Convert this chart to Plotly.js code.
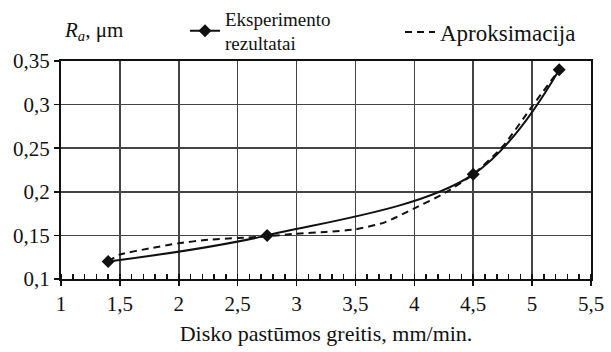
<!DOCTYPE html>
<html>
<head>
<meta charset="utf-8">
<script src="https://cdn.plot.ly/plotly-3.0.1.min.js"></script>
<style>html,body{margin:0;padding:0;background:#fff;}#chart{width:611px;height:352px;}</style>
</head>
<body>
<div id="chart"></div>
<script>
// Experimental results
const expX = [1.4, 2.75, 4.5, 5.23];
const expY = [0.12, 0.15, 0.22, 0.34];
// Approximation curve
const aprX = [1.4, 1.5, 1.75, 2, 2.25, 2.5, 2.75, 3, 3.25, 3.5, 3.75, 4, 4.25, 4.5, 4.75, 5, 5.23];
const aprY = [0.12, 0.128, 0.135, 0.141, 0.145, 0.147, 0.149, 0.152, 0.154, 0.157, 0.165, 0.181, 0.198, 0.22, 0.252, 0.298, 0.34];
// Labels
const expName = 'Eksperimento<br>rezultatai';
const aprName = 'Aproksimacija';
const xTitle = 'Disko pastūmos greitis, mm/min.';
const yTitle = '<i>R</i><sub><i>a</i></sub>, μm';

const FONT = 'Liberation Serif';

const traces = [
  {
    x: aprX, y: aprY, name: aprName, type: 'scatter', mode: 'lines',
    line: {color: '#111', width: 2, dash: '7px,5px', shape: 'spline', smoothing: 0.6},
    legend: 'legend2'
  },
  {
    x: expX, y: expY, name: expName, type: 'scatter', mode: 'lines+markers',
    line: {color: '#111', width: 2, shape: 'spline', smoothing: 1},
    marker: {symbol: 'diamond', size: 10, color: '#111'},
    legend: 'legend'
  }
];

const layout = {
  width: 611, height: 352,
  margin: {l: 61, r: 20, t: 61, b: 73, autoexpand: false},
  paper_bgcolor: '#fff', plot_bgcolor: '#fff',
  separators: ', ',
  font: {family: FONT, color: '#111', size: 20},
  showlegend: true,
  legend: {
    x: (185 - 61) / 530, xanchor: 'left', y: (279 - 31) / 218, yanchor: 'middle',
    orientation: 'h', font: {family: FONT, size: 19, color: '#111'},
    bgcolor: 'rgba(0,0,0,0)', borderwidth: 0
  },
  legend2: {
    x: (400 - 61) / 530, xanchor: 'left', y: (279 - 32) / 218, yanchor: 'middle',
    orientation: 'h', font: {family: FONT, size: 23, color: '#111'},
    bgcolor: 'rgba(0,0,0,0)', borderwidth: 0
  },
  xaxis: {
    range: [1, 5.5], dtick: 0.5, tick0: 1,
    showgrid: true, gridcolor: '#444', gridwidth: 1.5,
    showline: true, linecolor: '#111', linewidth: 2, mirror: true,
    ticks: 'outside', ticklen: 5, tickwidth: 1.5, tickcolor: '#111',
    minor: {dtick: 0.1, ticks: 'inside', ticklen: 5, tickwidth: 1.5, tickcolor: '#111', showgrid: false},
    tickfont: {family: FONT, size: 21, color: '#111'},
    zeroline: false, fixedrange: true,
    title: {text: xTitle, font: {family: FONT, size: 22, color: '#111'}, standoff: 10}
  },
  yaxis: {
    range: [0.1, 0.35], dtick: 0.05, tick0: 0.1,
    showgrid: true, gridcolor: '#444', gridwidth: 1.5,
    showline: true, linecolor: '#111', linewidth: 2, mirror: true,
    ticks: 'outside', ticklen: 5, tickwidth: 1.5, tickcolor: '#111',
    tickfont: {family: FONT, size: 21, color: '#111'},
    zeroline: false, fixedrange: true
  },
  annotations: [{
    text: yTitle, xref: 'paper', yref: 'paper',
    x: (62 - 61) / 530, xanchor: 'left', y: (279 - 31) / 218, yanchor: 'middle',
    showarrow: false, font: {family: FONT, size: 21, color: '#111'}
  }]
};

Plotly.newPlot('chart', traces, layout, {displayModeBar: false, staticPlot: true});
</script>
</body>
</html>
